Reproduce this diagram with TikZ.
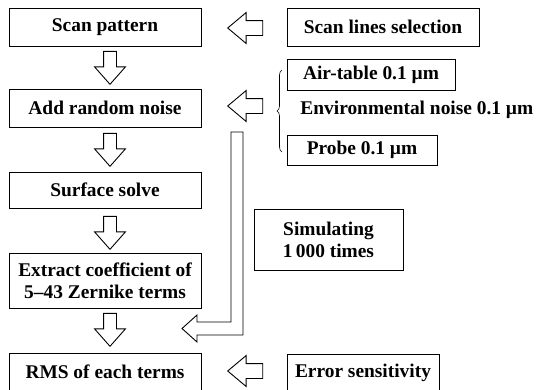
\documentclass[tikz,border=0pt]{standalone}
\usepackage{fontspec}
\setmainfont{Liberation Serif}
\usetikzlibrary{shapes.arrows,decorations.pathreplacing}

\begin{document}
\begin{tikzpicture}[x=1pt,y=-1pt,
	box/.style={draw, line width=0.9pt, inner sep=0pt, minimum height=38pt,
		align=center, font=\bfseries\fontsize{19.4}{22}\selectfont},
	downarrow/.style={draw, line width=0.9pt, single arrow, rotate=-90, anchor=tip,
		minimum height=33pt, minimum width=30pt, inner xsep=0pt, inner ysep=6pt,
		single arrow head extend=9pt, single arrow tip angle=83},
	leftarrow/.style={draw, line width=0.9pt, single arrow, rotate=180, anchor=tip,
		minimum height=35pt, minimum width=30pt, inner xsep=0pt, inner ysep=7pt,
		single arrow head extend=8pt, single arrow tip angle=80}]

	\useasboundingbox (0,0) rectangle (539,389);

	% main chain
	\node[box, minimum width=192pt] (scan) at (105,27) {Scan pattern};
	\node[box, minimum width=192pt] (noise) at (105,108) {Add random noise};
	\node[box, minimum width=192pt, minimum height=36pt] (solve) at (105,190) {Surface solve};
	\node[box, minimum width=192pt, minimum height=55pt] (extract) at (105,280.5)
		{Extract coefficient of\\5--43 Zernike terms};
	\node[box, minimum width=192pt] (rms) at (105,372) {RMS of each terms};

	% side inputs
	\node[box, minimum width=192pt] (lines) at (383,27) {Scan lines selection};
	\node[box, minimum width=168pt, minimum height=31pt] (air) at (371,74.5) {Air-table 0.1 µm};
	\node[box, draw=none, anchor=west] (env) at (300,110) {Environmental noise 0.1 µm};
	\node[box, minimum width=150pt, minimum height=30pt] (probe) at (362,150) {Probe 0.1 µm};
	\node[box, minimum width=149pt, minimum height=61pt] (sim) at (328.5,239.5)
		{Simulating\\1\,000 times};
	\node[box, minimum width=152pt, minimum height=37pt] (err) at (363,372.5) {Error sensitivity};

	% down arrows
	\node[downarrow] (d1) at (110,85) {};
	\node[downarrow] (d2) at (110,167) {};
	\node[downarrow] (d3) at (110,250) {};
	\node[downarrow] (d4) at (110,347) {};

	% left arrows
	\node[leftarrow] (l1) at (227,28) {};
	\node[leftarrow] (l2) at (227,106) {};
	\node[leftarrow] (l3) at (227,371) {};

	% brace of noise sources
	\draw[decorate, decoration={brace, amplitude=5pt}, line width=0.6pt]
		(282,152) -- (282,70);

	% loop back
	\draw[line width=0.9pt] (231,132) -- (243,132) -- (243,335) -- (197,335)
		-- (197,342) -- (182,328.5) -- (197,315) -- (197,322) -- (231,322) -- cycle;

\end{tikzpicture}
\end{document}
